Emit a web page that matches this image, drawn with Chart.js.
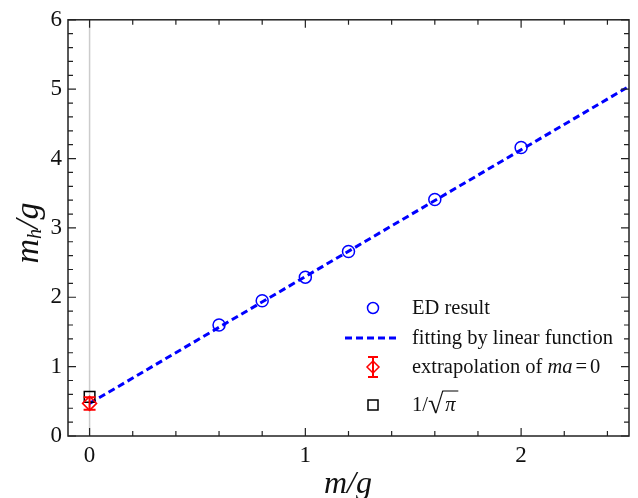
<!DOCTYPE html>
<html>
<head>
<meta charset="utf-8">
<script src="https://cdn.jsdelivr.net/npm/chart.js@4/dist/chart.umd.min.js"></script>
<style>
html,body{margin:0;padding:0;background:#fff;}
#wrap{width:638px;height:498px;position:relative;}
</style>
</head>
<body>
<div id="wrap"><canvas id="c" width="638" height="498"></canvas></div>
<script>
// ---- data ----
const edX = [0.6, 0.8, 1.0, 1.2, 1.6, 2.0];
const edY = [1.60, 1.95, 2.29, 2.66, 3.41, 4.16];
const fitX = [0, 2.5];
const fitY = [0.47, 5.04];
const extrapX = [0];
const extrapY = [0.47];
const extrapErr = [0.09];
const refX = [0];
const refY = [0.564];   // 1/sqrt(pi)
const xMajorTicks = [0, 1, 2];
const xMinorTicks = [0.2, 0.4, 0.6, 0.8, 1.2, 1.4, 1.6, 1.8, 2.2, 2.4];
const yMajorTicks = [0, 1, 2, 3, 4, 5, 6];
const yMinorTicks = [0.2,0.4,0.6,0.8,1.2,1.4,1.6,1.8,2.2,2.4,2.6,2.8,3.2,3.4,3.6,3.8,4.2,4.4,4.6,4.8,5.2,5.4,5.6,5.8];
const legendLabels = ['ED result', 'fitting by linear function', 'extrapolation of ', '1/'];

const SERIF = '"Liberation Serif","Times New Roman",serif';
const BLUE = '#0000ff';
const RED = '#ff0000';
const LEG = 20.5;

const toPts = (xs, ys) => xs.map((x, i) => ({x: x, y: ys[i]}));

const framePlugin = {
  id: 'frame',
  beforeDatasetsDraw(chart) {
    const {ctx, chartArea: a, scales: {x}} = chart;
    ctx.save();
    ctx.strokeStyle = '#cccccc';
    ctx.lineWidth = 1.5;
    const px = x.getPixelForValue(0);
    ctx.beginPath(); ctx.moveTo(px, a.top); ctx.lineTo(px, a.bottom); ctx.stroke();
    ctx.restore();
  },
  afterDatasetsDraw(chart) {
    const {ctx, scales: {x, y}} = chart;
    ctx.save();
    ctx.strokeStyle = RED; ctx.lineWidth = 2;
    extrapX.forEach((xv, i) => {
      const px = x.getPixelForValue(xv);
      const p1 = y.getPixelForValue(extrapY[i] + extrapErr[i]);
      const p2 = y.getPixelForValue(extrapY[i] - extrapErr[i]);
      ctx.beginPath();
      ctx.moveTo(px, p1); ctx.lineTo(px, p2);
      ctx.moveTo(px - 6, p1); ctx.lineTo(px + 6, p1);
      ctx.moveTo(px - 6, p2); ctx.lineTo(px + 6, p2);
      ctx.stroke();
    });
    ctx.restore();
  },
  afterDraw(chart) {
    const {ctx, chartArea: a, scales: {x, y}} = chart;
    ctx.save();
    ctx.strokeStyle = '#222';
    ctx.lineWidth = 1.5;
    ctx.strokeRect(a.left, a.top, a.right - a.left, a.bottom - a.top);
    ctx.lineWidth = 1.2;
    ctx.beginPath();
    const tx = (v, len) => {
      const p = x.getPixelForValue(v);
      ctx.moveTo(p, a.bottom); ctx.lineTo(p, a.bottom - len);
      ctx.moveTo(p, a.top); ctx.lineTo(p, a.top + len);
    };
    const ty = (v, len) => {
      const p = y.getPixelForValue(v);
      ctx.moveTo(a.left, p); ctx.lineTo(a.left + len, p);
      ctx.moveTo(a.right, p); ctx.lineTo(a.right - len, p);
    };
    xMajorTicks.forEach(v => tx(v, 8));
    xMinorTicks.forEach(v => tx(v, 5));
    yMajorTicks.forEach(v => ty(v, 8));
    yMinorTicks.forEach(v => ty(v, 5));
    ctx.stroke();

    // axis titles
    ctx.fillStyle = '#111';
    ctx.textBaseline = 'alphabetic';
    ctx.font = 'italic 32px ' + SERIF;
    ctx.textAlign = 'center';
    ctx.fillText('m/g', 348, 493);

    ctx.save();
    ctx.translate(38, 233);
    ctx.rotate(-Math.PI / 2);
    ctx.textAlign = 'left';
    ctx.font = 'italic 34px ' + SERIF;
    const wm = ctx.measureText('m').width;
    ctx.font = 'italic 20px ' + SERIF;
    const wh = ctx.measureText('h').width;
    ctx.font = 'italic 34px ' + SERIF;
    const wg = ctx.measureText('/g').width;
    let sx = -(wm + wh + wg) / 2;
    ctx.fillText('m', sx, 0); sx += wm;
    ctx.font = 'italic 20px ' + SERIF;
    ctx.fillText('h', sx, 3); sx += wh;
    ctx.font = 'italic 34px ' + SERIF;
    ctx.fillText('/g', sx, 0);
    ctx.restore();

    // legend
    const mx = 373, tx0 = 412;
    const rows = [308, 338, 367, 405];
    ctx.font = LEG + 'px ' + SERIF;
    ctx.textAlign = 'left';
    ctx.textBaseline = 'middle';
    // row 1
    ctx.strokeStyle = BLUE; ctx.lineWidth = 1.5;
    ctx.beginPath(); ctx.arc(mx, rows[0], 5.5, 0, Math.PI * 2); ctx.stroke();
    ctx.fillText(legendLabels[0], tx0, rows[0] + 1);
    // row 2
    ctx.lineWidth = 3; ctx.setLineDash([7, 4]);
    ctx.beginPath(); ctx.moveTo(345, rows[1]); ctx.lineTo(396, rows[1]); ctx.stroke();
    ctx.setLineDash([]);
    ctx.fillText(legendLabels[1], tx0, rows[1] + 1);
    // row 3
    ctx.strokeStyle = RED; ctx.lineWidth = 2;
    ctx.beginPath();
    ctx.moveTo(mx, rows[2] - 10); ctx.lineTo(mx, rows[2] + 10);
    ctx.moveTo(mx - 5, rows[2] - 10); ctx.lineTo(mx + 5, rows[2] - 10);
    ctx.moveTo(mx - 5, rows[2] + 10); ctx.lineTo(mx + 5, rows[2] + 10);
    ctx.stroke();
    ctx.lineWidth = 1.5;
    ctx.beginPath();
    ctx.moveTo(mx, rows[2] - 6); ctx.lineTo(mx + 6, rows[2]); ctx.lineTo(mx, rows[2] + 6); ctx.lineTo(mx - 6, rows[2]); ctx.closePath();
    ctx.stroke();
    let cx = tx0;
    ctx.fillText(legendLabels[2], cx, rows[2] + 1); cx += ctx.measureText(legendLabels[2]).width;
    ctx.font = 'italic ' + LEG + 'px ' + SERIF;
    ctx.fillText('ma', cx, rows[2] + 1); cx += ctx.measureText('ma').width + 3;
    ctx.font = LEG + 'px ' + SERIF;
    ctx.fillText('=', cx, rows[2] + 1); cx += ctx.measureText('=').width + 3;
    ctx.fillText('0', cx, rows[2] + 1);
    // row 4
    ctx.strokeStyle = '#000'; ctx.lineWidth = 1.5;
    ctx.strokeRect(mx - 5, rows[3] - 5, 10, 10);
    cx = tx0;
    ctx.fillText(legendLabels[3], cx, rows[3] + 1); cx += ctx.measureText(legendLabels[3]).width;
    ctx.font = '28px ' + SERIF;
    ctx.fillText('\u221A', cx, rows[3] + 1);
    const ws = ctx.measureText('\u221A').width;
    ctx.lineWidth = 1;
    ctx.beginPath(); ctx.moveTo(cx + ws - 1, rows[3] - 14); ctx.lineTo(cx + ws + 15, rows[3] - 14); ctx.stroke();
    cx += ws + 2;
    ctx.font = 'italic ' + LEG + 'px ' + SERIF;
    ctx.fillText('\u03C0', cx, rows[3] + 1);
    ctx.restore();
  }
};

new Chart(document.getElementById('c'), {
  type: 'scatter',
  data: {
    datasets: [
      { label: 'fit', data: toPts(fitX, fitY), showLine: true, borderColor: BLUE, borderWidth: 3,
        borderDash: [7, 4], pointRadius: 0, fill: false, order: 3 },
      { label: 'ED result', data: toPts(edX, edY), pointStyle: 'circle', pointRadius: 6,
        borderColor: BLUE, backgroundColor: 'rgba(0,0,0,0)', pointBorderWidth: 1.5, order: 2 },
      { label: 'ref', data: toPts(refX, refY), pointStyle: 'rect', pointRadius: 7.5,
        borderColor: '#000', backgroundColor: 'rgba(0,0,0,0)', pointBorderWidth: 1.5, order: 1 },
      { label: 'extrap', data: toPts(extrapX, extrapY), pointStyle: 'rectRot', pointRadius: 7,
        borderColor: RED, backgroundColor: 'rgba(0,0,0,0)', pointBorderWidth: 1.5, order: 0 }
    ]
  },
  options: {
    responsive: false,
    animation: false,
    clip: false,
    layout: { padding: { top: 16, right: 8, left: 0, bottom: 0 } },
    plugins: { legend: { display: false }, tooltip: { enabled: false } },
    scales: {
      x: {
        type: 'linear', min: -0.1, max: 2.5,
        grid: { display: false, drawTicks: false },
        border: { display: false },
        afterBuildTicks: s => { s.ticks = xMajorTicks.map(v => ({value: v})); },
        ticks: { padding: 6, color: '#111', font: { family: SERIF, size: 23 }, maxRotation: 0,
          callback: v => String(v) },
        afterFit: s => { s.height = 62; }
      },
      y: {
        type: 'linear', min: 0, max: 6,
        grid: { display: false, drawTicks: false },
        border: { display: false },
        afterBuildTicks: s => { s.ticks = yMajorTicks.map(v => ({value: v})); },
        ticks: { padding: 6, color: '#111', font: { family: SERIF, size: 23 },
          callback: v => String(v) },
        afterFit: s => { s.width = 68; }
      }
    }
  },
  plugins: [framePlugin]
});
</script>
</body>
</html>
